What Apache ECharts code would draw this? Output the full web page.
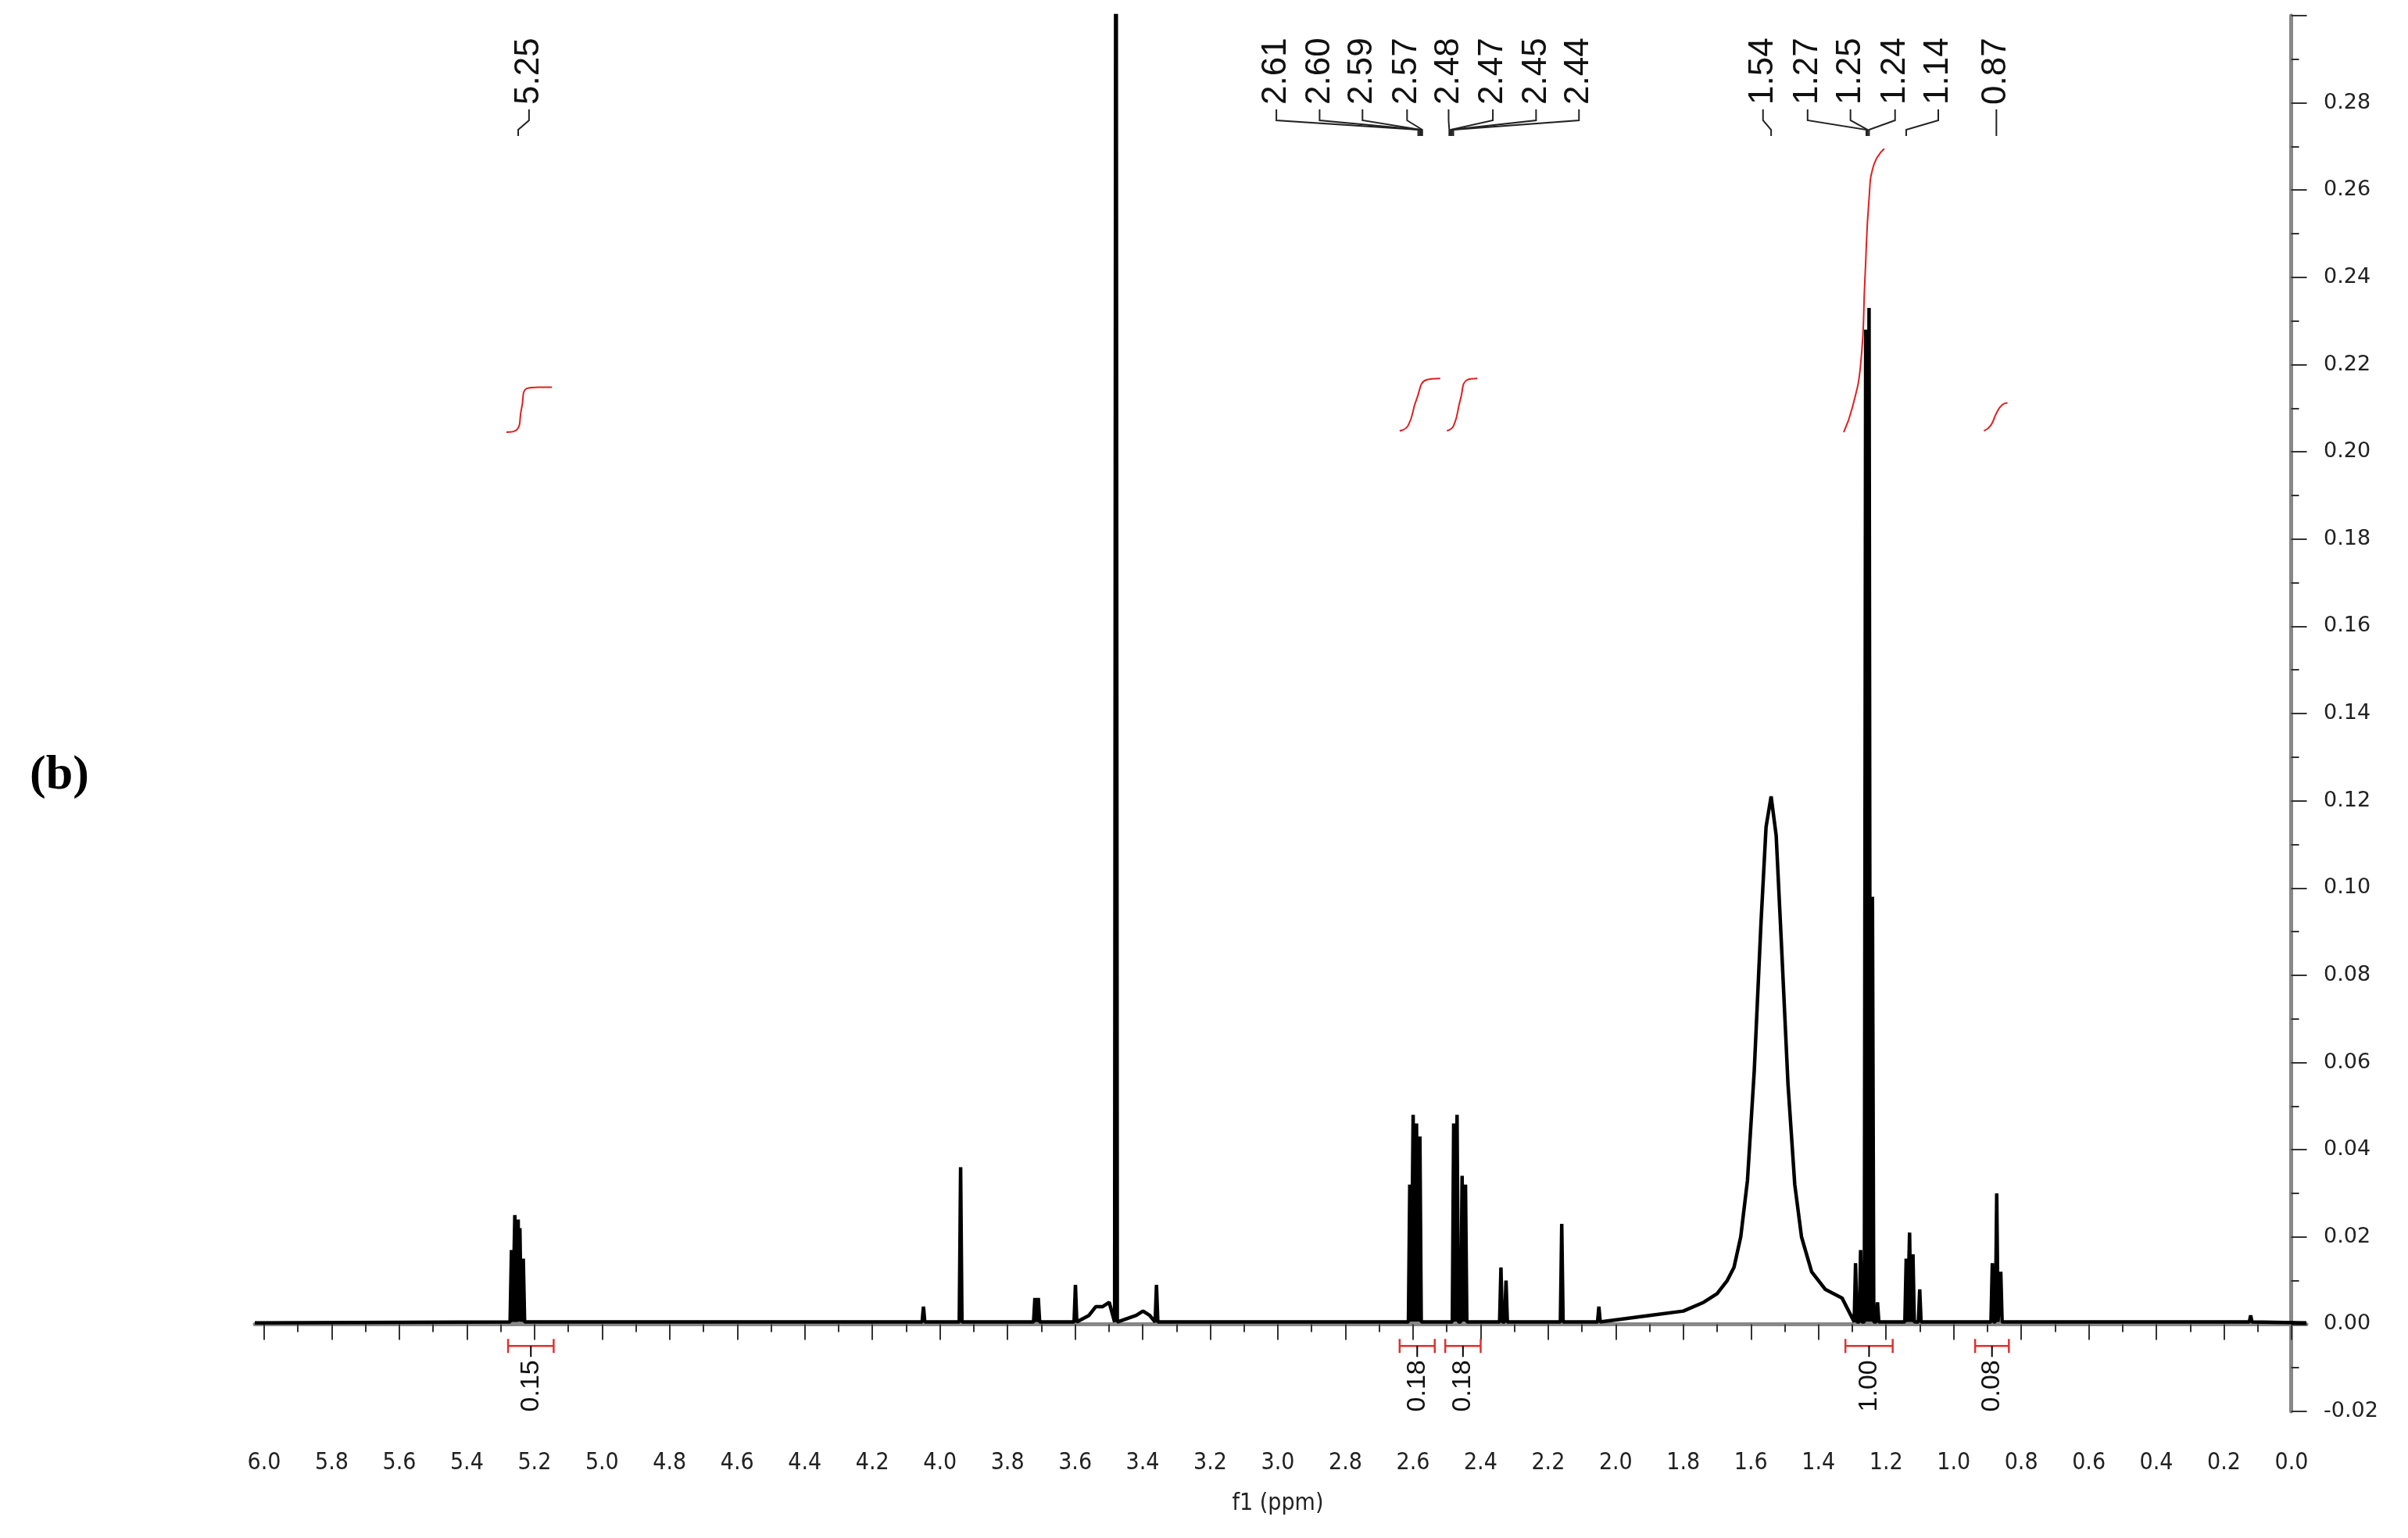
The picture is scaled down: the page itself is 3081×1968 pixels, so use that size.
<!DOCTYPE html>
<html>
<head>
<meta charset="utf-8">
<script src="https://cdn.jsdelivr.net/npm/echarts@6/dist/echarts.min.js"></script>
<style>html,body{margin:0;padding:0;background:#fff}#main{width:3081px;height:1968px}</style>
</head>
<body>
<div id="main"></div>
<script>
// 尖峰 [ppm, 强度]
var sharpPeaks = [
	[5.27, 0.017], [5.26, 0.025], [5.25, 0.024], [5.245, 0.022], [5.235, 0.015],
	[4.05, 0.004], [3.94, 0.036], [3.72, 0.006], [3.71, 0.006], [3.60, 0.009],
	[3.48, 0.40], [3.36, 0.009],
	[2.61, 0.032], [2.60, 0.048], [2.59, 0.046], [2.58, 0.043],
	[2.48, 0.046], [2.47, 0.048], [2.455, 0.034], [2.445, 0.032],
	[2.34, 0.013], [2.325, 0.010], [2.16, 0.023], [2.05, 0.004],
	[1.29, 0.014], [1.275, 0.017], [1.26, 0.228], [1.25, 0.233], [1.24, 0.098], [1.225, 0.005],
	[1.14, 0.015], [1.13, 0.021], [1.12, 0.016], [1.10, 0.008],
	[0.885, 0.014], [0.872, 0.030], [0.86, 0.012], [0.12, 0.002]
];
// 宽峰 / 驼峰轮廓
var broadProfile = [
	[3.56, 0.002], [3.54, 0.004], [3.52, 0.004], [3.50, 0.005], [3.42, 0.002], [3.40, 0.003], [3.38, 0.002],
	[1.90, 0.002], [1.80, 0.003], [1.74, 0.005], [1.70, 0.007], [1.67, 0.010], [1.65, 0.013], [1.63, 0.020],
	[1.61, 0.033], [1.59, 0.058], [1.57, 0.092], [1.555, 0.114], [1.54, 0.121], [1.525, 0.112],
	[1.51, 0.088], [1.49, 0.055], [1.47, 0.032], [1.45, 0.020], [1.42, 0.012], [1.38, 0.008], [1.33, 0.006]
];
// 积分曲线
var integralCurves = [
	[[5.285, 0.2045], [5.255, 0.205], [5.24, 0.210], [5.225, 0.2145], [5.19, 0.2148], [5.15, 0.2148]],
	[[2.64, 0.2048], [2.615, 0.206], [2.59, 0.212], [2.56, 0.2165], [2.52, 0.2168]],
	[[2.50, 0.2048], [2.48, 0.206], [2.46, 0.212], [2.44, 0.2165], [2.41, 0.2168]],
	[[1.325, 0.2045], [1.30, 0.210], [1.275, 0.220], [1.262, 0.240], [1.25, 0.258], [1.235, 0.266], [1.205, 0.2695]],
	[[0.91, 0.2048], [0.89, 0.206], [0.872, 0.209], [0.855, 0.2108], [0.84, 0.2112]]
];
// 积分区间 [起, 止, 数值]
var integrals = [
	[5.28, 5.145, '0.15'], [2.64, 2.536, '0.18'], [2.505, 2.40, '0.18'],
	[1.32, 1.18, '1.00'], [0.936, 0.836, '0.08']
];
// 峰标注 [文字位置ppm, 峰位置ppm, 文字]
var peakLabels = [
	[5.218, 5.25, '5.25'],
	[3.005, 2.585, '2.61'], [2.877, 2.581, '2.60'], [2.75, 2.577, '2.59'], [2.618, 2.573, '2.57'],
	[2.495, 2.493, '2.48'], [2.364, 2.489, '2.47'], [2.236, 2.485, '2.45'], [2.109, 2.481, '2.44'],
	[1.564, 1.54, '1.54'], [1.432, 1.258, '1.27'], [1.305, 1.254, '1.25'], [1.173, 1.250, '1.24'],
	[1.045, 1.14, '1.14'], [0.873, 0.873, '0.87']
];

var spectrum = [];
sharpPeaks.forEach(function(p) {
	spectrum.push([p[0] + 0.004, 0.0005], p, [p[0] - 0.004, 0.0005]);
});
broadProfile.forEach(function(p) { spectrum.push(p); });
spectrum.push([6.03, 0.0003], [-0.045, 0.0003]);
spectrum.sort(function(a, b) { return b[0] - a[0]; });

var obj = echarts.init(document.getElementById('main'));
var option = {
	animation : false,
	backgroundColor : '#fff',
	textStyle : { fontFamily : 'DejaVu Sans' },
	grid : [
		{ left : 326, right : 130, top : 20, bottom : 162 },
		{ left : 338, right : 149, top : 20, bottom : 162 }
	],
	xAxis : [
		{
			gridIndex : 0, type : 'value', inverse : true, min : -0.045, max : 6.03,
			offset : 35, axisLine : { lineStyle : { color : '#888', width : 5 } },
			axisTick : { show : false }, axisLabel : { show : false }, splitLine : { show : false }
		},
		{
			gridIndex : 1, type : 'value', inverse : true, min : 0, max : 6, interval : 0.2,
			offset : 35, axisLine : { show : false },
			axisTick : { length : 20, lineStyle : { color : '#333', width : 2 } },
			minorTick : { show : true, splitNumber : 2, length : 10, lineStyle : { color : '#333', width : 2 } },
			axisLabel : { fontSize : 30, color : '#222', margin : 16, fontFamily : 'Liberation Sans Narrow, DejaVu Sans Condensed',
				formatter : function(v) { return v.toFixed(1); } },
			splitLine : { show : false },
			name : 'f1 (ppm)', nameLocation : 'middle', nameGap : 68,
			nameTextStyle : { fontSize : 30, color : '#222', fontFamily : 'DejaVu Sans Condensed' }
		}
	],
	yAxis : [
		{
			gridIndex : 0, type : 'value', position : 'right', offset : 12, min : -0.02, max : 0.30, interval : 0.02,
			axisLine : { show : true, lineStyle : { color : '#888', width : 5 } },
			axisTick : { show : true, length : 20, lineStyle : { color : '#333', width : 2 } },
			minorTick : { show : true, splitNumber : 2, length : 10, lineStyle : { color : '#333', width : 2 } },
			axisLabel : { fontSize : 27, color : '#222', margin : 10,
				formatter : function(v) { return v > 0.29 ? '' : v.toFixed(2); } },
			splitLine : { show : false }
		},
		{ gridIndex : 1, type : 'value', min : -0.02, max : 0.30, show : false }
	],
	series : [
		{
			type : 'line', xAxisIndex : 0, yAxisIndex : 0, data : spectrum, showSymbol : false,
			lineStyle : { color : '#000', width : 4.5 }, clip : true, silent : true
		}
	].concat(integralCurves.map(function(c) {
		return { type : 'line', xAxisIndex : 0, yAxisIndex : 0, data : c, smooth : true, showSymbol : false,
			lineStyle : { color : '#e02020', width : 2 } };
	})).concat([
		{
			type : 'custom', xAxisIndex : 0, yAxisIndex : 0, data : integrals, clip : false,
			renderItem : function(params, api) {
				var a = api.coord([api.value(0), -0.005]);
				var b = api.coord([api.value(1), -0.005]);
				var mx = (a[0] + b[0]) / 2;
				var red = { stroke : '#e03030', lineWidth : 2.5 };
				return { type : 'group', children : [
					{ type : 'line', shape : { x1 : a[0], y1 : a[1], x2 : b[0], y2 : b[1] }, style : red },
					{ type : 'line', shape : { x1 : a[0], y1 : a[1] - 9, x2 : a[0], y2 : a[1] + 9 }, style : red },
					{ type : 'line', shape : { x1 : b[0], y1 : b[1] - 9, x2 : b[0], y2 : b[1] + 9 }, style : red },
					{ type : 'line', shape : { x1 : mx, y1 : a[1], x2 : mx, y2 : a[1] + 14 }, style : { stroke : '#000', lineWidth : 2 } },
					{ type : 'text', x : mx, y : a[1] + 18, rotation : Math.PI / 2,
						style : { text : integrals[params.dataIndex][2], fontSize : 34, fill : '#111', align : 'right', verticalAlign : 'middle' } }
				] };
			}
		},
		{
			type : 'custom', xAxisIndex : 0, yAxisIndex : 0, data : peakLabels, clip : false,
			renderItem : function(params, api) {
				var t = api.coord([api.value(0), 0]);
				var p = api.coord([api.value(1), 0]);
				var ln = { stroke : '#222', lineWidth : 2 };
				return { type : 'group', children : [
					{ type : 'polyline', shape : { points : [[t[0], 140], [t[0], 154], [p[0], 166], [p[0], 174]] }, style : Object.assign({ fill : null }, ln) },
					{ type : 'text', x : t[0], y : 134, rotation : Math.PI / 2,
						style : { text : peakLabels[params.dataIndex][2], fontSize : 44, fill : '#111', align : 'left', verticalAlign : 'middle' } }
				] };
			}
		}
	]),
	graphic : [
		{ type : 'text', left : 38, top : 962,
			style : { text : '(b)', fontSize : 62, fontWeight : 'bold', fill : '#000', fontFamily : 'Liberation Serif' } }
	]
};
obj.setOption(option);
</script>
</body>
</html>
